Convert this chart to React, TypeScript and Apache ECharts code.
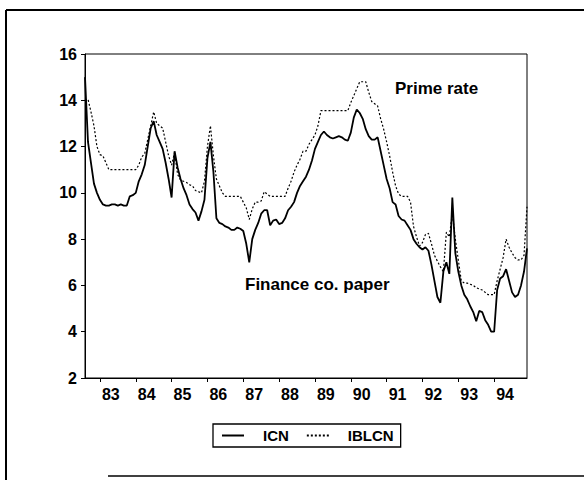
import React, { useEffect, useRef } from "react";
import * as echarts from "echarts";

// Monthly observations, Aug 1982 .. Dec 1994
const START_YEAR = 1982;
const START_MONTH = 8;

// ICN: finance company paper rate (solid)
const ICN = [
  15.0, 12.2, 11.3, 10.4, 10.0, 9.7, 9.5, 9.45, 9.45, 9.5,
  9.5, 9.45, 9.5, 9.45, 9.45, 9.85, 9.9, 10.0, 10.5, 10.8,
  11.2, 12.0, 12.8, 13.1, 12.5, 12.2, 11.9, 11.3, 10.6, 9.8,
  11.8, 11.1, 10.6, 10.2, 9.9, 9.5, 9.3, 9.15, 8.8, 9.2,
  9.7, 11.5, 12.2, 10.9, 8.9, 8.7, 8.65, 8.55, 8.5, 8.4,
  8.4, 8.5, 8.45, 8.35, 7.8, 7.0, 8.0, 8.4, 8.7, 9.1,
  9.25, 9.25, 8.6, 8.8, 8.85, 8.65, 8.7, 8.9, 9.25, 9.4,
  9.6, 10.0, 10.3, 10.5, 10.7, 11.0, 11.4, 11.9, 12.2, 12.5,
  12.65, 12.5, 12.4, 12.35, 12.4, 12.45, 12.4, 12.3, 12.25, 12.6,
  13.25, 13.6, 13.45, 13.2, 12.75, 12.45, 12.3, 12.3, 12.4, 11.8,
  11.2, 10.6, 10.2, 9.6, 9.5, 9.0, 8.85, 8.8, 8.6, 8.4,
  8.0, 7.8, 7.65, 7.55, 7.65, 7.5, 6.9, 6.2, 5.5, 5.25,
  6.6, 7.0, 6.5, 9.8, 7.4, 6.6, 6.0, 5.6, 5.4, 5.1,
  4.85, 4.45, 4.9, 4.85, 4.5, 4.3, 4.0, 4.0, 5.8, 6.3,
  6.4, 6.7, 6.2, 5.7, 5.5, 5.6, 6.0, 6.6, 7.6,
];

// IBLCN: prime rate (dotted)
const IBLCN = [
  14.0, 14.05, 13.5, 12.9, 12.0, 11.65, 11.6, 11.3, 11.0, 11.0,
  11.0, 11.0, 11.0, 11.0, 11.0, 11.0, 11.0, 11.0, 11.2, 11.55,
  11.7, 12.3, 12.9, 13.5, 13.0, 12.9, 12.8, 12.2, 11.6, 11.2,
  11.75, 10.8, 10.55, 10.5, 10.45, 10.35, 10.3, 10.1, 10.05, 10.0,
  10.5, 12.0, 12.9, 11.6, 10.6, 10.3, 10.0, 9.85, 9.85, 9.85,
  9.85, 9.85, 9.85, 9.6, 9.35, 8.85, 9.3, 9.6, 9.6, 9.65,
  10.05, 9.95, 9.85, 9.85, 9.85, 9.85, 9.85, 9.85, 10.2, 10.5,
  10.9, 11.2, 11.45, 11.8, 11.8, 12.1, 12.3, 12.5, 12.9, 13.55,
  13.55, 13.55, 13.55, 13.55, 13.55, 13.55, 13.55, 13.55, 13.55, 13.9,
  14.2, 14.5, 14.8, 14.8, 14.8, 14.35, 13.95, 13.85, 13.75, 13.2,
  12.75, 12.2, 11.6, 10.9, 10.3, 9.95, 9.85, 9.85, 9.85, 9.6,
  8.55, 8.1, 7.7, 7.85, 8.2, 8.25, 7.8, 7.3, 7.05, 6.8,
  6.6, 8.3, 8.1, 9.1, 8.0, 7.1, 6.2, 6.1, 6.1, 6.05,
  6.0, 5.9, 5.85, 5.8, 5.7, 5.6, 5.6, 5.6, 6.2, 6.7,
  7.2, 8.0, 7.65, 7.4, 7.2, 7.1, 7.1, 7.3, 9.4,
];

const SERIES_NAMES = ["ICN", "IBLCN"];
const ANNOTATIONS = ["Prime rate", "Finance co. paper"];
const Y_MIN = 2;
const Y_MAX = 16;
const Y_STEP = 2;

const MONTHS: string[] = ICN.map((_, i) => {
  const m = START_MONTH - 1 + i;
  const y = START_YEAR + Math.floor(m / 12);
  const mm = (m % 12) + 1;
  return `${y}-${mm < 10 ? "0" + mm : mm}`;
});

const FONT = '"Liberation Sans", Arial, Helvetica, sans-serif';
const isJan = (index: number) => !!MONTHS[index] && MONTHS[index].endsWith("-01");

export default function App() {
  const ref = useRef<HTMLDivElement>(null);

  useEffect(() => {
    document.body.style.margin = "0";
    if (!ref.current) return;
    const chart = echarts.init(ref.current, null, { renderer: "svg" });
    chart.setOption({
      animation: false,
      backgroundColor: "#fff",
      grid: {
        left: 85,
        right: 57,
        top: 54,
        bottom: 102,
        show: true,
        borderColor: "#000",
        borderWidth: 1,
        backgroundColor: "transparent",
      },
      legend: {
        data: SERIES_NAMES,
        left: 213,
        top: 424,
        orient: "horizontal",
        borderColor: "#000",
        borderWidth: 1.3,
        borderRadius: 0,
        padding: [4, 7, 4, 8],
        itemWidth: 22,
        itemHeight: 10,
        itemGap: 17,
        itemStyle: { opacity: 0, borderWidth: 0 },
        textStyle: {
          fontFamily: FONT,
          fontSize: 15,
          fontWeight: "bold",
          color: "#000",
          padding: [0, 0, 0, 14],
        },
      },
      xAxis: {
        type: "category",
        boundaryGap: false,
        data: MONTHS,
        axisLine: { show: true, lineStyle: { color: "#000", width: 1 } },
        axisTick: {
          show: true,
          interval: (index: number) => isJan(index),
          length: 4,
          inside: false,
          lineStyle: { color: "#000" },
        },
        axisLabel: {
          interval: (index: number) => isJan(index),
          formatter: (v: string) => v.slice(2, 4),
          align: "left",
          padding: [0, 0, 0, 2],
          margin: 8,
          color: "#000",
          fontFamily: FONT,
          fontSize: 16,
          fontWeight: "bold",
        },
        splitLine: { show: false },
      },
      yAxis: {
        type: "value",
        min: Y_MIN,
        max: Y_MAX,
        interval: Y_STEP,
        axisLine: { show: true, lineStyle: { color: "#000", width: 1 } },
        axisTick: { show: true, length: 4, inside: false, lineStyle: { color: "#000" } },
        axisLabel: {
          margin: 8,
          color: "#000",
          fontFamily: FONT,
          fontSize: 16,
          fontWeight: "bold",
        },
        splitLine: { show: false },
      },
      series: [
        {
          name: SERIES_NAMES[0],
          type: "line",
          data: ICN,
          symbol: "none",
          lineStyle: { color: "#000", width: 1.8, type: "solid" },
          itemStyle: { color: "#000" },
        },
        {
          name: SERIES_NAMES[1],
          type: "line",
          data: IBLCN,
          symbol: "none",
          lineStyle: { color: "#000", width: 1.2, type: [2, 2] },
          itemStyle: { color: "#000" },
        },
      ],
      graphic: [
        { type: "line", shape: { x1: 6, y1: 10, x2: 584, y2: 10 }, style: { stroke: "#000", lineWidth: 2 } },
        { type: "line", shape: { x1: 6, y1: 10, x2: 6, y2: 480 }, style: { stroke: "#000", lineWidth: 2 } },
        { type: "line", shape: { x1: 108, y1: 476, x2: 584, y2: 476 }, style: { stroke: "#000", lineWidth: 1.5 } },
        {
          type: "text",
          x: 395,
          y: 88,
          style: { text: ANNOTATIONS[0], fill: "#000", font: `bold 17px ${FONT}`, verticalAlign: "middle" },
        },
        {
          type: "text",
          x: 245,
          y: 284,
          style: { text: ANNOTATIONS[1], fill: "#000", font: `bold 17px ${FONT}`, verticalAlign: "middle" },
        },
      ],
    });
    return () => chart.dispose();
  }, []);

  return (
    <div
      ref={ref}
      style={{ position: "fixed", left: 0, top: 0, width: 584, height: 480, background: "#fff" }}
    />
  );
}
